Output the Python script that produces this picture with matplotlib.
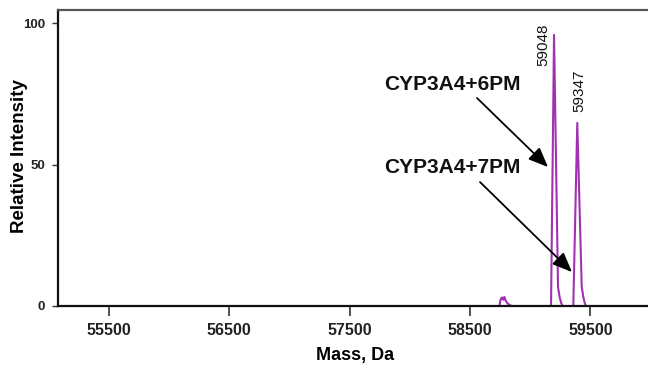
import matplotlib
matplotlib.use("Agg")
import matplotlib.pyplot as plt

plt.rcParams['font.family'] = ['Liberation Sans', 'DejaVu Sans']

# spectrum trace (mass in Da, relative intensity in %)
bump_mass = [58745, 58752, 58758, 58765, 58772, 58778, 58785, 58795, 58810, 58830, 58850]
bump_int = [0, 2.0, 2.6, 3.0, 2.4, 2.2, 3.2, 2.0, 1.0, 0.3, 0]
peak1_mass = [59173, 59198, 59231, 59245, 59258, 59270]
peak1_int = [0, 95.8, 6.7, 3.0, 1.0, 0]
peak2_mass = [59358, 59391, 59428, 59442, 59453, 59463]
peak2_int = [0, 64.7, 6.7, 3.0, 1.0, 0]

peak_labels = ["59048", "59347"]
label_pos = [(59106, 92.2), (59405, 76.0)]

species = ["CYP3A4+6PM", "CYP3A4+7PM"]
species_text = [(58351, 78.4), (58351, 48.8)]
arrow_start = [(58558, 73.5), (58583, 43.8)]
arrow_tip = [(59148, 49.1), (59347, 12.0)]

xticks = [55500, 56500, 57500, 58500, 59500]
yticks = [0, 50, 100]

purple = '#a032b0'

fig = plt.figure(figsize=(6.48, 3.72), dpi=100)
ax = fig.add_axes([58 / 648, 1 - 306 / 372, (650.6 - 58) / 648, 296 / 372])

for m, i in [(bump_mass, bump_int), (peak1_mass, peak1_int), (peak2_mass, peak2_int)]:
    ax.plot(m, i, color=purple, lw=1.5, solid_joinstyle='round')

for lab, (x, y) in zip(peak_labels, label_pos):
    ax.text(x, y, lab, rotation=90, ha='center', va='center', fontsize=11, color='#111111')

for lab, (x, y) in zip(species, species_text):
    ax.text(x, y, lab, ha='center', va='center', fontsize=15, fontweight='bold', color='#111111')

for s, t in zip(arrow_start, arrow_tip):
    ax.annotate('', xy=t, xytext=s,
                arrowprops=dict(arrowstyle='-|>,head_length=1.2,head_width=0.5',
                                color='black', lw=1.3, shrinkA=0, shrinkB=0))

ax.set_xlim(55078, 60000)
ax.set_ylim(0, 104.6)
ax.set_xticks(xticks)
ax.set_xticklabels([str(v) for v in xticks])
ax.set_yticks(yticks)
ax.tick_params(axis='x', length=7, width=1.2, pad=5, labelsize=11.5, color='#333333')
ax.tick_params(axis='y', length=4.5, width=1, pad=5, labelsize=9.5, color='#333333')
for lab in ax.get_xticklabels() + ax.get_yticklabels():
    lab.set_fontweight('bold')
    lab.set_color('#222222')

ax.spines['left'].set_linewidth(1.6)
ax.spines['bottom'].set_linewidth(1.6)
ax.spines['left'].set_color('#111111')
ax.spines['bottom'].set_color('#111111')
ax.spines['top'].set_linewidth(1.6)
ax.spines['top'].set_color('#555555')
ax.spines['right'].set_visible(False)

ax.set_xlabel('Mass, Da', fontsize=13, fontweight='bold')
ax.set_ylabel('Relative Intensity', fontsize=13.5, fontweight='bold')
ax.xaxis.set_label_coords((355 - 58) / 592.6, -(347 - 306) / 296)
ax.yaxis.set_label_coords(-(58 - 28) / 592.6, (306 - 156) / 296)

fig.savefig('out.png', dpi=100)
